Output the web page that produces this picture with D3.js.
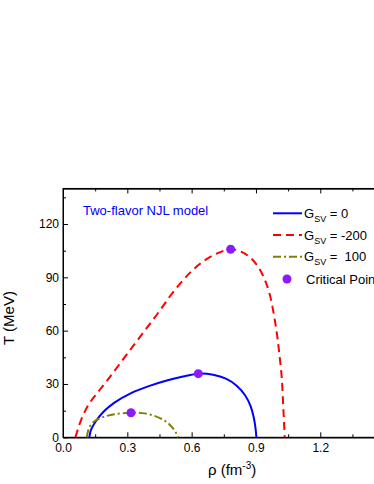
<!DOCTYPE html>
<html>
<head>
<meta charset="utf-8">
<script src="https://cdn.jsdelivr.net/npm/d3@7"></script>
<style>
  body { margin: 0; background: #fff; }
  svg { display: block; font-family: "Liberation Sans", Arial, sans-serif; }
  .axis path, .axis line { stroke: #000; stroke-width: 1; }
  .axis text { font-size: 12px; fill: #000; font-family: "Liberation Sans", Arial, sans-serif; }
</style>
</head>
<body>
<svg id="chart" width="374" height="484"></svg>
<script>
// data: rho (fm^-3), T (MeV)
const gsv0 = [
  [0.123, 0], [0.13, 4], [0.15, 8.5], [0.19, 14.5], [0.24, 19.5], [0.32, 25],
  [0.40, 28.8], [0.48, 31.8], [0.56, 34.2], [0.631, 35.8], [0.70, 35.2],
  [0.76, 33], [0.81, 29], [0.85, 23.5], [0.875, 17.5], [0.89, 11],
  [0.898, 5], [0.902, 0]
]
const gsvMinus200 = [
  [0.058, 0], [0.068, 4], [0.082, 9], [0.1, 14], [0.125, 19.5], [0.16, 25],
  [0.2, 31], [0.25, 39], [0.3, 47], [0.35, 55], [0.4, 63], [0.45, 71],
  [0.5, 79.5], [0.55, 87], [0.6, 93.5], [0.66, 99.5], [0.72, 103.5], [0.782, 105.8],
  [0.83, 104.5], [0.87, 101.5], [0.91, 96], [0.94, 89], [0.965, 80],
  [0.985, 68], [0.998, 58], [1.008, 48], [1.02, 34], [1.027, 18],
  [1.031, 8], [1.034, 0]
]
const gsv100 = [
  [0.111, 0], [0.118, 4], [0.13, 7], [0.15, 9.3], [0.19, 11.5], [0.24, 13],
  [0.317, 13.8], [0.37, 13.6], [0.42, 12.3], [0.46, 10.3], [0.49, 8],
  [0.51, 5.5], [0.525, 3], [0.537, 0]
]
const criticalPoints = [[0.631, 35.8], [0.782, 105.8], [0.317, 13.8]]

const xTicks = [0, 0.3, 0.6, 0.9, 1.2, 1.5]
const xMinor = [0.15, 0.45, 0.75, 1.05, 1.35]
const yTicks = [0, 30, 60, 90, 120]
const yMinor = [15, 45, 75, 105, 135]

const legendItems = [
  {label: "= 0", color: "#0000ff", dash: null},
  {label: "= -200", color: "#ff0000", dash: "8,5"},
  {label: "=  100", color: "#808000", dash: "8,3,2,3"},
]

// layout
const plotLeft = 63, plotRight = 384.6, plotBottom = 437.3
const x = d3.scaleLinear().domain([0, 1.5]).range([plotLeft, plotRight])
const y = d3.scaleLinear().domain([0, 140]).range([plotBottom, plotBottom - 140 * 1.7775])
const plotTop = y(140)

const svg = d3.select("#chart")

// frame
svg.append("rect")
  .attr("x", plotLeft).attr("y", plotTop)
  .attr("width", plotRight - plotLeft).attr("height", plotBottom - plotTop)
  .attr("fill", "none").attr("stroke", "#000")

// axes, ticks point inward
svg.append("g").attr("class", "axis")
  .attr("transform", "translate(0," + plotBottom + ")")
  .call(d3.axisBottom(x).tickValues(xTicks).tickFormat(d3.format(".1f"))
    .tickSizeInner(-5).tickSizeOuter(0).tickPadding(6))
svg.append("g").attr("class", "axis")
  .attr("transform", "translate(0," + plotBottom + ")")
  .call(d3.axisBottom(x).tickValues(xMinor).tickFormat("")
    .tickSizeInner(-3).tickSizeOuter(0))
svg.append("g").attr("class", "axis")
  .attr("transform", "translate(0," + plotTop + ")")
  .call(d3.axisTop(x).tickValues(xTicks).tickFormat("")
    .tickSizeInner(-5).tickSizeOuter(0))
svg.append("g").attr("class", "axis")
  .attr("transform", "translate(0," + plotTop + ")")
  .call(d3.axisTop(x).tickValues(xMinor).tickFormat("")
    .tickSizeInner(-3).tickSizeOuter(0))

svg.append("g").attr("class", "axis")
  .attr("transform", "translate(" + plotLeft + ",0)")
  .call(d3.axisLeft(y).tickValues(yTicks)
    .tickSizeInner(-5).tickSizeOuter(0).tickPadding(4))
svg.append("g").attr("class", "axis")
  .attr("transform", "translate(" + plotLeft + ",0)")
  .call(d3.axisLeft(y).tickValues(yMinor).tickFormat("")
    .tickSizeInner(-3).tickSizeOuter(0))
svg.append("g").attr("class", "axis")
  .attr("transform", "translate(" + plotRight + ",0)")
  .call(d3.axisRight(y).tickValues(yTicks).tickFormat("")
    .tickSizeInner(-5).tickSizeOuter(0))

// axis titles
svg.append("text")
  .attr("transform", "translate(14,318) rotate(-90)")
  .attr("text-anchor", "middle")
  .style("font-size", "15px")
  .text("T (MeV)")

const xLabel = svg.append("text")
  .attr("x", 208).attr("y", 475)
  .style("font-size", "15px")
xLabel.append("tspan").text("ρ (fm")
xLabel.append("tspan").attr("dy", -6).style("font-size", "10px").text("-3")
xLabel.append("tspan").attr("dy", 6).text(")")

// curves
const line = d3.line()
  .x(d => x(d[0]))
  .y(d => y(d[1]))
  .curve(d3.curveCatmullRom.alpha(0.5))

const series = [gsv0, gsvMinus200, gsv100]
series.forEach((s, i) => {
  svg.append("path")
    .datum(s)
    .attr("d", line)
    .attr("fill", "none")
    .attr("stroke", legendItems[i].color)
    .attr("stroke-width", 2)
    .attr("stroke-dasharray", legendItems[i].dash)
})

svg.selectAll(".cp")
  .data(criticalPoints)
  .enter().append("circle")
    .attr("class", "cp")
    .attr("cx", d => x(d[0]))
    .attr("cy", d => y(d[1]))
    .attr("r", 4.5)
    .attr("fill", "#8c1aff")

// title inside the plot
svg.append("text")
  .attr("x", 83).attr("y", 214.5)
  .style("font-size", "13px")
  .attr("fill", "#0000ff")
  .text("Two-flavor NJL model")

// legend
const rowY = [213.3, 235, 256.7, 279]
legendItems.forEach((d, i) => {
  svg.append("line")
    .attr("x1", 273).attr("x2", 302)
    .attr("y1", rowY[i]).attr("y2", rowY[i])
    .attr("stroke", d.color).attr("stroke-width", 2)
    .attr("stroke-dasharray", d.dash)
  const t = svg.append("text")
    .attr("x", 304).attr("y", rowY[i] + 4.5)
    .attr("xml:space", "preserve")
    .style("font-size", "13px")
  t.append("tspan").text("G")
  t.append("tspan").attr("dy", 4).style("font-size", "9px").text("SV")
  t.append("tspan").attr("dy", -4).text(" " + d.label)
})
svg.append("circle")
  .attr("cx", 287).attr("cy", rowY[3]).attr("r", 4.5)
  .attr("fill", "#8c1aff")
svg.append("text")
  .attr("x", 306).attr("y", rowY[3] + 4.5)
  .style("font-size", "13px")
  .text("Critical Point")
</script>
</body>
</html>
